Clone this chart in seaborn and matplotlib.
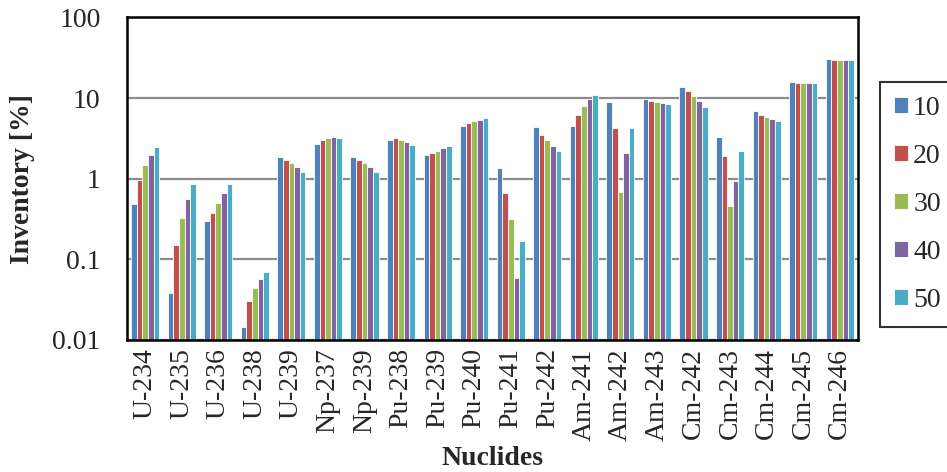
import numpy as np
import pandas as pd
import matplotlib
matplotlib.use("Agg")
import matplotlib.pyplot as plt
from matplotlib.ticker import FixedLocator, FixedFormatter
import seaborn as sns

nuclides = ["U-234", "U-235", "U-236", "U-238", "U-239", "Np-237", "Np-239",
            "Pu-238", "Pu-239", "Pu-240", "Pu-241", "Pu-242", "Am-241", "Am-242",
            "Am-243", "Cm-242", "Cm-243", "Cm-244", "Cm-245", "Cm-246"]
series_names = ["10", "20", "30", "40", "50"]

s10 = [0.48, 0.038, 0.30, 0.0146, 1.86, 2.66, 1.86, 2.99, 1.97, 4.50,
       1.34, 4.37, 4.45, 8.84, 9.62, 13.8, 3.29, 6.97, 15.9, 30.7]
s20 = [0.96, 0.151, 0.38, 0.030, 1.70, 3.04, 1.70, 3.16, 2.06, 4.90,
       0.67, 3.51, 6.21, 4.25, 9.09, 12.3, 1.91, 6.21, 15.5, 29.9]
s30 = [1.48, 0.325, 0.50, 0.0437, 1.56, 3.22, 1.56, 3.01, 2.22, 5.19,
       0.316, 2.99, 8.03, 0.684, 8.84, 10.7, 0.463, 5.81, 15.5, 29.6]
s40 = [1.98, 0.565, 0.66, 0.0576, 1.38, 3.29, 1.38, 2.82, 2.38, 5.39,
       0.058, 2.56, 9.62, 2.06, 8.59, 9.09, 0.927, 5.54, 15.5, 29.3]
s50 = [2.49, 0.867, 0.85, 0.0703, 1.22, 3.22, 1.22, 2.64, 2.52, 5.70,
       0.169, 2.18, 10.8, 4.25, 8.51, 7.73, 2.18, 5.24, 15.5, 29.3]

y_ticks = [0.01, 0.1, 1, 10, 100]
y_tick_labels = ["0.01", "0.1", "1", "10", "100"]

palette = ["#4F81BD", "#C0504D", "#9BBB59", "#8064A2", "#4BACC6"]

rows = []
for name, vals in zip(series_names, [s10, s20, s30, s40, s50]):
    for nuc, v in zip(nuclides, vals):
        rows.append({"Nuclide": nuc, "Series": name, "Inventory": v})
df = pd.DataFrame(rows)

sns.set_style("white")
plt.rcParams["font.family"] = ["Liberation Serif", "DejaVu Serif"]

FS = 20

fig = plt.figure(figsize=(9.47, 4.72), dpi=100)
ax = fig.add_axes([0.134, 0.280, 0.772, 0.683])

sns.barplot(data=df, x="Nuclide", y="Inventory", hue="Series",
            order=nuclides, hue_order=series_names, palette=palette,
            saturation=1, width=0.77, gap=0, edgecolor="white", linewidth=0.6,
            log_scale=True, ax=ax, legend=True, errorbar=None)

ax.set_yscale("log")
ax.set_ylim(0.01, 100)
ax.set_xlim(-0.5, len(nuclides) - 0.5)

ax.yaxis.set_major_locator(FixedLocator(y_ticks))
ax.yaxis.set_major_formatter(FixedFormatter(y_tick_labels))
ax.yaxis.set_minor_locator(FixedLocator([]))
ax.grid(axis="y", which="major", color="#8c8c8c", linewidth=1.6, zorder=0)
ax.set_axisbelow(True)

ax.tick_params(axis="y", which="major", direction="in", length=6, width=1.5,
               labelsize=FS, pad=19, color="black")
ax.set_xticks(range(len(nuclides)))
ax.set_xticklabels(nuclides, rotation=90, fontsize=FS)
ax.tick_params(axis="x", which="major", length=0, pad=6)
ax.xaxis.set_minor_locator(FixedLocator(np.arange(0.5, len(nuclides) - 0.5, 1)))
ax.tick_params(axis="x", which="minor", direction="in", length=4, width=1.5,
               color="black")

for sp in ax.spines.values():
    sp.set_visible(True)
    sp.set_color("black")
    sp.set_linewidth(1.8)

ax.set_xlabel("Nuclides", fontsize=FS, fontweight="bold", labelpad=4)
ax.set_ylabel("Inventory [%]", fontsize=FS, fontweight="bold", labelpad=12)

handles, labels = ax.get_legend_handles_labels()
ax.get_legend().remove()
leg = fig.legend(handles, labels, loc="upper left",
                 bbox_to_anchor=(0.929, 0.826), bbox_transform=fig.transFigure,
                 frameon=True, fancybox=False, fontsize=FS,
                 handlelength=0.5, handleheight=0.5, handletextpad=0.2,
                 labelspacing=0.83, borderpad=0.5, borderaxespad=0)
leg.get_frame().set_edgecolor("black")
leg.get_frame().set_linewidth(1.5)

fig.savefig("out.png", dpi=100)
